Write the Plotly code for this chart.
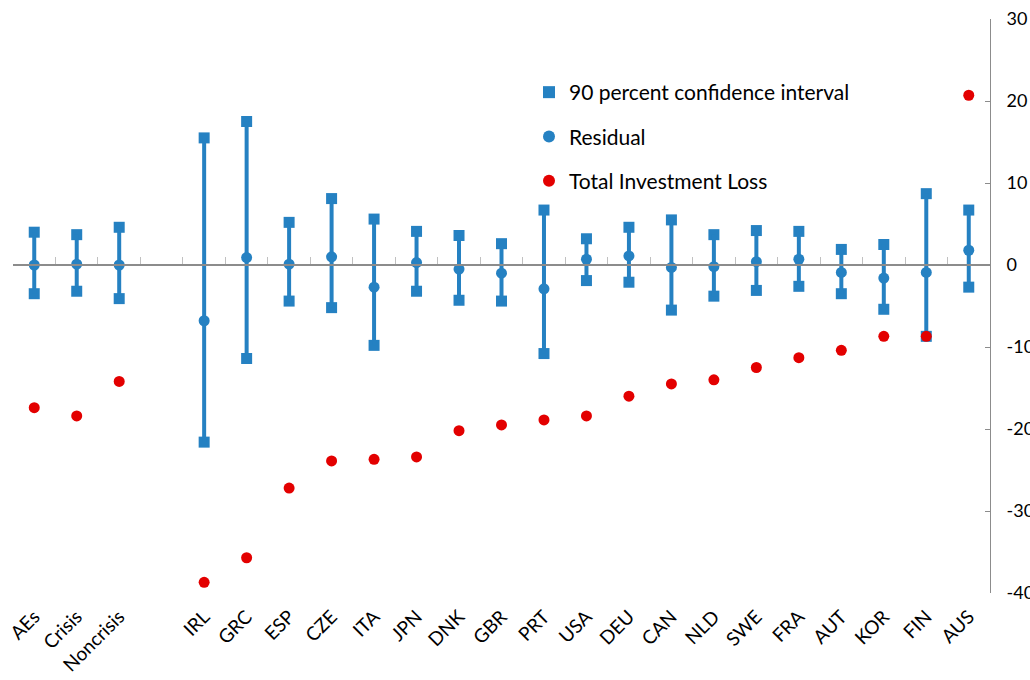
import plotly.graph_objects as go

categories = ["AEs", "Crisis", "Noncrisis", " ", "IRL", "GRC", "ESP", "CZE", "ITA", "JPN",
              "DNK", "GBR", "PRT", "USA", "DEU", "CAN", "NLD", "SWE", "FRA", "AUT",
              "KOR", "FIN", "AUS"]
ci_upper = [4.0, 3.7, 4.6, None, 15.5, 17.5, 5.2, 8.1, 5.6, 4.1,
            3.6, 2.6, 6.7, 3.2, 4.6, 5.5, 3.7, 4.2, 4.1, 1.9,
            2.5, 8.7, 6.7]
ci_lower = [-3.5, -3.2, -4.1, None, -21.6, -11.4, -4.4, -5.2, -9.8, -3.2,
            -4.3, -4.4, -10.8, -1.9, -2.1, -5.5, -3.8, -3.1, -2.6, -3.5,
            -5.4, -8.7, -2.7]
residual = [0.0, 0.1, 0.0, None, -6.8, 0.9, 0.1, 1.0, -2.7, 0.3,
            -0.5, -1.0, -2.9, 0.7, 1.1, -0.3, -0.2, 0.4, 0.7, -0.9,
            -1.6, -0.9, 1.8]
investment_loss = [-17.4, -18.4, -14.2, None, -38.7, -35.7, -27.2, -23.9, -23.7, -23.4,
                   -20.2, -19.5, -18.9, -18.4, -16.0, -14.5, -14.0, -12.5, -11.3, -10.4,
                   -8.7, -8.7, 20.7]
y_ticks = [-40, -30, -20, -10, 0, 10, 20, 30]
y_tick_labels = ["-40", "-30", "-20", "-10", "0", "10", "20", "30"]

BLUE = "#2581C2"
RED = "#E30000"
FONT = "Lato, 'Open Sans', sans-serif"

# margins / geometry
W, H = 1030, 680
ML, MR, MT, MB = 13, 40, 19, 87
y_min, y_max = -40, 30

n = len(categories)
err_plus = [None if (h is None or r is None) else h - r for h, r in zip(ci_upper, residual)]
err_minus = [None if (l is None or r is None) else r - l for l, r in zip(ci_lower, residual)]

fig = go.Figure()

# squares at CI ends
sq_x, sq_y = [], []
for c, h, l in zip(categories, ci_upper, ci_lower):
    if h is None:
        continue
    sq_x += [c, c]
    sq_y += [h, l]
fig.add_trace(go.Scatter(
    x=sq_x, y=sq_y, mode="markers", name="90 percent confidence interval",
    marker=dict(symbol="square", size=11, color=BLUE),
    legendgroup="a", xaxis="x", yaxis="y"))

fig.add_trace(go.Scatter(
    x=categories, y=residual, mode="markers", name="Residual",
    marker=dict(symbol="circle", size=11, color=BLUE),
    error_y=dict(type="data", symmetric=False, array=err_plus, arrayminus=err_minus,
                 color=BLUE, thickness=4, width=0),
    legendgroup="b", xaxis="x", yaxis="y"))

fig.add_trace(go.Scatter(
    x=categories, y=investment_loss, mode="markers", name="Total Investment Loss",
    marker=dict(symbol="circle", size=11, color=RED),
    legendgroup="c", xaxis="x", yaxis="y"))

plot_w = W - ML - MR
plot_h = H - MT - MB
legend_left_px = 529
legend_top_px = 72
fig.update_layout(
    width=W, height=H,
    margin=dict(l=ML, r=MR, t=MT, b=MB, pad=0, autoexpand=False),
    paper_bgcolor="white", plot_bgcolor="white",
    font=dict(family=FONT, size=18, color="#000000"),
    showlegend=True,
    legend=dict(
        x=(legend_left_px - ML) / plot_w,
        y=(H - MB - legend_top_px) / plot_h,
        xanchor="left", yanchor="top",
        bgcolor="rgba(0,0,0,0)", font=dict(family=FONT, size=21),
        tracegroupgap=14, itemsizing="constant"),
    xaxis=dict(
        type="category", categoryorder="array", categoryarray=categories,
        range=[-0.5, n - 0.5], showgrid=False, showline=False, zeroline=False,
        ticks="", tickangle=-45, ticklabelstandoff=8, automargin=False,
        tickfont=dict(family=FONT, size=19, color="#000000")),
    xaxis2=dict(
        overlaying="x", anchor="free", position=(0 - y_min) / (y_max - y_min),
        range=[-0.5, n - 0.5], showgrid=False, zeroline=False,
        showline=True, linecolor="#8c8c8c", linewidth=1.5,
        tickmode="array", tickvals=[i - 0.5 for i in range(n)],
        ticks="inside", ticklen=7, tickcolor="#c0c0c0", tickwidth=1,
        showticklabels=False, automargin=False),
    yaxis=dict(
        range=[y_min, y_max], side="right", tickmode="array",
        tickvals=y_ticks, ticktext=y_tick_labels,
        showgrid=False, zeroline=False, automargin=False,
        showline=True, linecolor="#8c8c8c", linewidth=1,
        ticks="inside", ticklen=5, tickcolor="#8c8c8c",
        ticklabelstandoff=12,
        tickfont=dict(family=FONT, size=18, color="#000000")),
)
# dummy trace on xaxis2 so it renders
fig.add_trace(go.Scatter(x=[None], y=[None], xaxis="x2", yaxis="y",
                         showlegend=False, hoverinfo="skip"))

fig.write_html("out.html")
